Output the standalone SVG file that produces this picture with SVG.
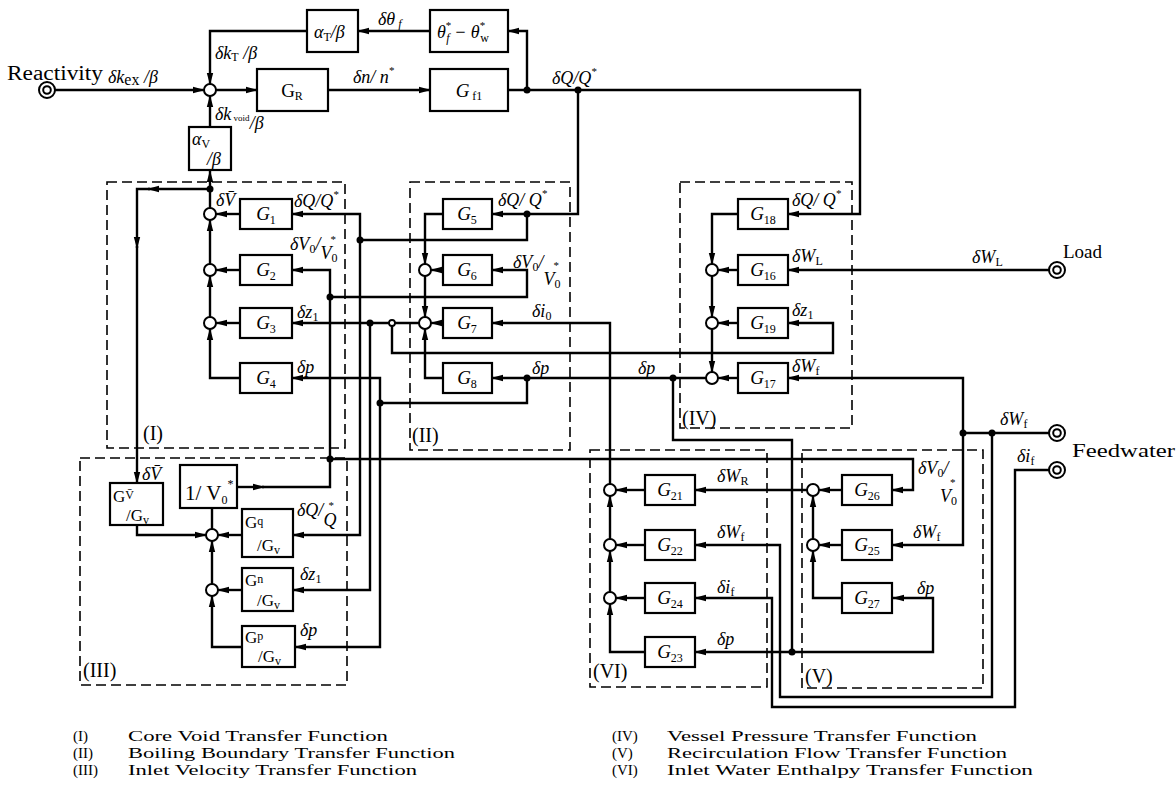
<svg xmlns="http://www.w3.org/2000/svg" width="1176" height="797" viewBox="0 0 1176 797">
<style>
.w{fill:none;stroke:#000;stroke-width:2.4}
.wa{fill:none;stroke:#000;stroke-width:2.4;marker-end:url(#a)}
.bx{fill:#fff;stroke:#000;stroke-width:2.2}
.blk{fill:none;stroke:#000;stroke-width:1.6;stroke-dasharray:10 5}
.sj{fill:#fff;stroke:#000;stroke-width:2}
.dot{fill:#000}
text{font-family:"Liberation Serif","Times New Roman",serif;fill:#000}
.l{font-size:18px;font-style:italic}
.s{font-size:12px}
.n{font-style:normal}
.st{font-size:11px;font-style:normal}
.g{font-size:19px;font-style:italic;text-anchor:middle}
.rm{font-size:20px}
.lg{font-size:15px}
</style>
<defs>
<marker id="a" viewBox="0 0 12 8" refX="11" refY="4" markerWidth="12" markerHeight="8" markerUnits="userSpaceOnUse" orient="auto"><path d="M0,0.8 L12,4 L0,7.2 z" fill="#000"/></marker>
</defs>
<rect width="1176" height="797" fill="#fff"/>

<g id="blocks">
<rect id="blockI" class="blk" x="107" y="182" width="238" height="266"/>
<rect id="blockII" class="blk" x="410" y="182" width="160" height="268"/>
<rect id="blockIV" class="blk" x="680" y="182" width="172" height="246"/>
<rect id="blockIII" class="blk" x="80" y="458" width="267" height="227"/>
<rect id="blockVI" class="blk" x="590" y="450" width="177" height="237"/>
<rect id="blockV" class="blk" x="802" y="450" width="181" height="238"/>
</g>

<g id="connectors">
<path class="wa" d="M55,90 H204"/>
<path class="wa" d="M216,90 H257"/>
<path class="wa" d="M328,90 H430"/>
<path class="wa" d="M508,90 H860 V214 H788"/>
<path class="wa" d="M527,90 V31 H508"/>
<path class="wa" d="M430,31 H358"/>
<path class="wa" d="M307,31 H210 V84"/>
<path class="wa" d="M210,127 V96"/>
<path class="wa" d="M210,208 V171"/>
<path class="wa" d="M210,189 H148"/>
<path class="wa" d="M150,189 H137 V248"/>
<path class="wa" d="M137,246 V483"/>
<path class="wa" d="M240,214 H216"/>
<path class="wa" d="M240,270 H216"/>
<path class="wa" d="M240,323 H216"/>
<path class="wa" d="M240,378 H210 V329"/>
<path class="wa" d="M210,317 V276"/>
<path class="wa" d="M210,264 V220"/>
<path class="wa" d="M360,240 V214 H292"/>
<path class="wa" d="M237,487 H264"/>
<path class="wa" d="M262,487 H330 V270 H292"/>
<path class="wa" d="M419,323 H292"/>
<path class="wa" d="M527,378 V403 H380 V378 H292"/>
<path class="wa" d="M380,403 V647 H295"/>
<path class="w" d="M527,214 V240 H360"/>
<path class="wa" d="M360,240 V535 H293"/>
<path class="wa" d="M370,323 V590 H293"/>
<path class="wa" d="M392,323 V353 H833 V323 H788"/>
<path class="wa" d="M578,90 V214 H492"/>
<path class="wa" d="M330,297 H527 V270 H492"/>
<path class="wa" d="M610,484 V323 H492"/>
<path class="wa" d="M706,378 H492"/>
<path class="wa" d="M443,214 H425 V264"/>
<path class="wa" d="M443,270 H431"/>
<path class="wa" d="M425,276 V317"/>
<path class="wa" d="M443,323 H431"/>
<path class="wa" d="M443,378 H425 V329"/>
<path class="wa" d="M738,214 H712 V264"/>
<path class="wa" d="M738,270 H718"/>
<path class="wa" d="M712,276 V317"/>
<path class="wa" d="M738,323 H718"/>
<path class="wa" d="M712,329 V372"/>
<path class="wa" d="M738,378 H718"/>
<path class="wa" d="M1049,270 H788"/>
<path class="wa" d="M963,433 V378 H788"/>
<path class="w" d="M1049,433 H963"/>
<path class="wa" d="M963,433 V545 H892"/>
<path class="wa" d="M992,433 V697 H780 V545 H695"/>
<path class="wa" d="M1049,470 H1015 V707 H772 V598 H695"/>
<path class="wa" d="M673,378 V440 H792 V652 H695"/>
<path class="wa" d="M792,652 H933 V598 H893"/>
<path class="wa" d="M645,652 H610 V604"/>
<path class="wa" d="M610,592 V551"/>
<path class="wa" d="M610,539 V496"/>
<path class="wa" d="M645,490 H616"/>
<path class="wa" d="M645,545 H616"/>
<path class="wa" d="M645,598 H616"/>
<path class="wa" d="M842,598 H813 V551"/>
<path class="wa" d="M813,539 V496"/>
<path class="wa" d="M842,490 H819"/>
<path class="wa" d="M842,545 H819"/>
<path class="wa" d="M807,490 H695"/>
<path class="wa" d="M330,459 H913 V490 H892"/>
<path class="wa" d="M137,525 V535 H206"/>
<path class="w" d="M212,529 V508"/>
<path class="wa" d="M242,535 H218"/>
<path class="wa" d="M242,590 H218"/>
<path class="wa" d="M242,647 H212 V596"/>
<path class="wa" d="M212,584 V541"/>
<g class="dot">
<circle cx="527" cy="90" r="3.5"/><circle cx="578" cy="90" r="3.5"/>
<circle cx="210" cy="189" r="3.5"/><circle cx="360" cy="240" r="3.5"/>
<circle cx="527" cy="214" r="3.5"/><circle cx="330" cy="297" r="3.5"/>
<circle cx="370" cy="323" r="3.5"/><circle cx="380" cy="403" r="3.5"/>
<circle cx="527" cy="378" r="3.5"/><circle cx="673" cy="378" r="3.5"/>
<circle cx="330" cy="459" r="3.5"/><circle cx="963" cy="433" r="3.5"/>
<circle cx="992" cy="433" r="3.5"/><circle cx="792" cy="652" r="3.5"/>
</g>
<circle cx="392" cy="323" r="3" fill="#fff" stroke="#000" stroke-width="1.8"/>
</g>

<g id="sources">
<g id="src_reactivity"><circle class="sj" cx="47" cy="90" r="8"/><circle class="sj" cx="47" cy="90" r="3.8"/></g>
<g id="src_load"><circle class="sj" cx="1057" cy="270" r="8"/><circle class="sj" cx="1057" cy="270" r="3.8"/></g>
<g id="src_feedW"><circle class="sj" cx="1057" cy="433" r="8"/><circle class="sj" cx="1057" cy="433" r="3.8"/></g>
<g id="src_feedI"><circle class="sj" cx="1057" cy="470" r="8"/><circle class="sj" cx="1057" cy="470" r="3.8"/></g>
</g>

<g id="junctions">
<circle id="sum0" class="sj" cx="210" cy="90" r="6"/>
<circle id="sumI1" class="sj" cx="210" cy="214" r="6"/>
<circle id="sumI2" class="sj" cx="210" cy="270" r="6"/>
<circle id="sumI3" class="sj" cx="210" cy="323" r="6"/>
<circle id="sumII1" class="sj" cx="425" cy="270" r="6"/>
<circle id="sumII2" class="sj" cx="425" cy="323" r="6"/>
<circle id="sumIV1" class="sj" cx="712" cy="270" r="6"/>
<circle id="sumIV2" class="sj" cx="712" cy="323" r="6"/>
<circle id="sumIV3" class="sj" cx="712" cy="378" r="6"/>
<circle id="sumVI1" class="sj" cx="610" cy="490" r="6"/>
<circle id="sumVI2" class="sj" cx="610" cy="545" r="6"/>
<circle id="sumVI3" class="sj" cx="610" cy="598" r="6"/>
<circle id="sumV1" class="sj" cx="813" cy="490" r="6"/>
<circle id="sumV2" class="sj" cx="813" cy="545" r="6"/>
<circle id="sumIII1" class="sj" cx="212" cy="535" r="6"/>
<circle id="sumIII2" class="sj" cx="212" cy="590" r="6"/>
</g>

<g id="n_alphaT"><rect class="bx" x="307" y="10" width="51" height="42"/><text class="l" x="314" y="38">α<tspan class="s n" dy="3">T</tspan><tspan dy="-3">/β</tspan></text></g>
<g id="n_theta"><rect class="bx" x="430" y="10" width="78" height="42"/><text class="l" x="437" y="38">θ<tspan class="st" dy="-9">*</tspan><tspan class="s" dx="-5" dy="13">f</tspan><tspan dy="-4"> − θ</tspan><tspan class="st" dy="-9">*</tspan><tspan class="s n" dx="-5" dy="13">w</tspan></text></g>
<g id="n_GR"><rect class="bx" x="257" y="69" width="71" height="42"/><text x="292" y="97" font-size="19" text-anchor="middle">G<tspan class="s" dy="3">R</tspan></text></g>
<g id="n_Gf1"><rect class="bx" x="430" y="69" width="78" height="42"/><text class="g" x="469" y="97">G<tspan class="s n" dy="3"> f1</tspan></text></g>
<g id="n_alphaV"><rect class="bx" x="189" y="127" width="42" height="43"/><text class="l" x="192" y="145">α<tspan class="s n" dy="3">V</tspan><tspan x="207" dy="17">/β</tspan></text></g>

<g id="n_G1"><rect class="bx" x="240" y="199" width="52" height="30"/><text class="g" x="266" y="220">G<tspan class="s n" dy="4">1</tspan></text></g>
<g id="n_G2"><rect class="bx" x="240" y="255" width="52" height="30"/><text class="g" x="266" y="276">G<tspan class="s n" dy="4">2</tspan></text></g>
<g id="n_G3"><rect class="bx" x="240" y="308" width="52" height="30"/><text class="g" x="266" y="329">G<tspan class="s n" dy="4">3</tspan></text></g>
<g id="n_G4"><rect class="bx" x="240" y="363" width="52" height="30"/><text class="g" x="266" y="384">G<tspan class="s n" dy="4">4</tspan></text></g>
<g id="n_G5"><rect class="bx" x="443" y="199" width="49" height="30"/><text class="g" x="467" y="220">G<tspan class="s n" dy="4">5</tspan></text></g>
<g id="n_G6"><rect class="bx" x="443" y="255" width="49" height="30"/><text class="g" x="467" y="276">G<tspan class="s n" dy="4">6</tspan></text></g>
<g id="n_G7"><rect class="bx" x="443" y="308" width="49" height="30"/><text class="g" x="467" y="329">G<tspan class="s n" dy="4">7</tspan></text></g>
<g id="n_G8"><rect class="bx" x="443" y="363" width="49" height="30"/><text class="g" x="467" y="384">G<tspan class="s n" dy="4">8</tspan></text></g>
<g id="n_G18"><rect class="bx" x="738" y="199" width="50" height="30"/><text class="g" x="763" y="220">G<tspan class="s n" dy="4">18</tspan></text></g>
<g id="n_G16"><rect class="bx" x="738" y="255" width="50" height="30"/><text class="g" x="763" y="276">G<tspan class="s n" dy="4">16</tspan></text></g>
<g id="n_G19"><rect class="bx" x="738" y="308" width="50" height="30"/><text class="g" x="763" y="329">G<tspan class="s n" dy="4">19</tspan></text></g>
<g id="n_G17"><rect class="bx" x="738" y="363" width="50" height="30"/><text class="g" x="763" y="384">G<tspan class="s n" dy="4">17</tspan></text></g>
<g id="n_G21"><rect class="bx" x="645" y="475" width="50" height="30"/><text class="g" x="670" y="496">G<tspan class="s n" dy="4">21</tspan></text></g>
<g id="n_G22"><rect class="bx" x="645" y="530" width="50" height="30"/><text class="g" x="670" y="551">G<tspan class="s n" dy="4">22</tspan></text></g>
<g id="n_G24"><rect class="bx" x="645" y="583" width="50" height="30"/><text class="g" x="670" y="604">G<tspan class="s n" dy="4">24</tspan></text></g>
<g id="n_G23"><rect class="bx" x="645" y="637" width="50" height="30"/><text class="g" x="670" y="658">G<tspan class="s n" dy="4">23</tspan></text></g>
<g id="n_G26"><rect class="bx" x="842" y="475" width="50" height="30"/><text class="g" x="867" y="496">G<tspan class="s n" dy="4">26</tspan></text></g>
<g id="n_G25"><rect class="bx" x="842" y="530" width="50" height="30"/><text class="g" x="867" y="551">G<tspan class="s n" dy="4">25</tspan></text></g>
<g id="n_G27"><rect class="bx" x="842" y="583" width="50" height="30"/><text class="g" x="867" y="604">G<tspan class="s n" dy="4">27</tspan></text></g>

<g id="n_GVbar"><rect class="bx" x="110" y="483" width="53" height="42"/><text x="113" y="502" font-size="17">G<tspan class="s" dy="-3">V̄</tspan><tspan x="126" dy="22">/G</tspan><tspan class="s" dy="3">v</tspan></text></g>
<g id="n_invV0"><rect class="bx" x="180" y="465" width="57" height="43"/><text x="185" y="500" font-size="21">1/ V<tspan class="s" dy="4">0</tspan><tspan class="s" dy="-16">*</tspan></text></g>
<g id="n_Gq"><rect class="bx" x="242" y="509" width="51" height="48"/><text x="245" y="528" font-size="17">G<tspan class="s" dy="-3">q</tspan><tspan x="257" dy="26">/G</tspan><tspan class="s" dy="3">v</tspan></text></g>
<g id="n_Gn"><rect class="bx" x="242" y="568" width="51" height="43"/><text x="245" y="586" font-size="17">G<tspan class="s" dy="-3">n</tspan><tspan x="257" dy="23">/G</tspan><tspan class="s" dy="3">v</tspan></text></g>
<g id="n_Gp"><rect class="bx" x="242" y="626" width="53" height="41"/><text x="245" y="643" font-size="17">G<tspan class="s" dy="-3">p</tspan><tspan x="258" dy="22">/G</tspan><tspan class="s" dy="3">v</tspan></text></g>

<g id="labels">
<text x="7" y="80" font-size="20" textLength="96" lengthAdjust="spacingAndGlyphs">Reactivity</text>
<text class="l" x="108" y="83" font-size="20">δk<tspan class="n" font-size="16" dy="2">ex</tspan><tspan dy="-2"> /β</tspan></text>
<text class="l" x="215" y="59">δk<tspan class="s n" dy="2">T</tspan><tspan dy="-2"> /β</tspan></text>
<text class="l" x="215" y="120">δk<tspan class="n" font-size="9" dy="1"> void</tspan><tspan dy="8">/β</tspan></text>
<text class="l" x="353" y="83">δn/ n<tspan class="st" dy="-9">*</tspan></text>
<text class="l" x="378" y="25">δθ<tspan class="s" dy="3"> f</tspan></text>
<text class="l" x="552" y="84">δQ/Q<tspan class="st" dy="-9">*</tspan></text>

<text class="l" x="216" y="206">δV̄</text>
<text class="l" x="294" y="207">δQ/Q<tspan class="st" dy="-9">*</tspan></text>
<text class="l" x="290" y="250">δV<tspan class="s n" dy="3">0</tspan><tspan dy="-3">/</tspan><tspan dy="9">V</tspan><tspan class="s n" dy="3">0</tspan><tspan class="st" dx="-7" dy="-19">*</tspan></text>
<text class="l" x="297" y="318">δz<tspan class="s n" dy="3">1</tspan></text>
<text class="l" x="297" y="373">δp</text>

<text class="l" x="498" y="206">δQ/ Q<tspan class="st" dy="-9">*</tspan></text>
<text class="l" x="513" y="268">δV<tspan class="s n" dy="3">0</tspan><tspan dy="-3">/</tspan><tspan dy="17">V</tspan><tspan class="s n" dy="3">0</tspan><tspan class="st" dx="-7" dy="-19">*</tspan></text>
<text class="l" x="532" y="317">δi<tspan class="s n" dy="3">0</tspan></text>
<text class="l" x="532" y="374">δp</text>
<text class="l" x="638" y="374">δp</text>

<text class="l" x="792" y="206">δQ/ Q<tspan class="st" dy="-9">*</tspan></text>
<text class="l" x="792" y="262">δW<tspan class="s n" dy="3">L</tspan></text>
<text class="l" x="792" y="316">δz<tspan class="s n" dy="3">1</tspan></text>
<text class="l" x="792" y="372">δW<tspan class="s n" dy="3">f</tspan></text>

<text class="l" x="972" y="263">δW<tspan class="s n" dy="3">L</tspan></text>
<text x="1063" y="258" font-size="19">Load</text>
<text class="l" x="1000" y="425">δW<tspan class="s n" dy="3">f</tspan></text>
<text class="l" x="1017" y="462">δi<tspan class="s n" dy="3">f</tspan></text>
<text x="1072" y="457" font-size="19" textLength="103" lengthAdjust="spacingAndGlyphs">Feedwater</text>

<text class="l" x="142" y="480">δV̄</text>
<text class="l" x="297" y="516">δQ/<tspan dy="10">Q</tspan><tspan class="st" dx="-8" dy="-17">*</tspan></text>
<text class="l" x="300" y="580">δz<tspan class="s n" dy="3">1</tspan></text>
<text class="l" x="300" y="636">δp</text>

<text class="l" x="717" y="482">δW<tspan class="s n" dy="3">R</tspan></text>
<text class="l" x="717" y="538">δW<tspan class="s n" dy="3">f</tspan></text>
<text class="l" x="717" y="593">δi<tspan class="s n" dy="3">f</tspan></text>
<text class="l" x="717" y="645">δp</text>

<text class="l" x="918" y="474">δV<tspan class="s n" dy="3">0</tspan><tspan dy="-3">/</tspan><tspan x="940" dy="28">V</tspan><tspan class="s n" dy="3">0</tspan><tspan class="st" dx="-7" dy="-19">*</tspan></text>
<text class="l" x="913" y="538">δW<tspan class="s n" dy="3">f</tspan></text>
<text class="l" x="917" y="594">δp</text>

<text class="rm" x="143" y="440">(I)</text>
<text class="rm" x="412" y="442">(II)</text>
<text class="rm" x="682" y="425">(IV)</text>
<text class="rm" x="83" y="677">(III)</text>
<text class="rm" x="593" y="678">(VI)</text>
<text class="rm" x="805" y="683">(V)</text>
</g>

<g id="legend">
<text class="lg" x="73" y="741">(I)</text>
<text class="lg" x="128" y="741" textLength="260" lengthAdjust="spacingAndGlyphs">Core Void Transfer Function</text>
<text class="lg" x="73" y="758">(II)</text>
<text class="lg" x="128" y="758" textLength="327" lengthAdjust="spacingAndGlyphs">Boiling Boundary Transfer Function</text>
<text class="lg" x="73" y="775">(III)</text>
<text class="lg" x="128" y="775" textLength="289" lengthAdjust="spacingAndGlyphs">Inlet Velocity Transfer Function</text>
<text class="lg" x="612" y="741">(IV)</text>
<text class="lg" x="667" y="741" textLength="310" lengthAdjust="spacingAndGlyphs">Vessel Pressure Transfer Function</text>
<text class="lg" x="612" y="758">(V)</text>
<text class="lg" x="667" y="758" textLength="340" lengthAdjust="spacingAndGlyphs">Recirculation Flow Transfer Function</text>
<text class="lg" x="612" y="775">(VI)</text>
<text class="lg" x="667" y="775" textLength="366" lengthAdjust="spacingAndGlyphs">Inlet Water Enthalpy Transfer Function</text>
</g>
</svg>
